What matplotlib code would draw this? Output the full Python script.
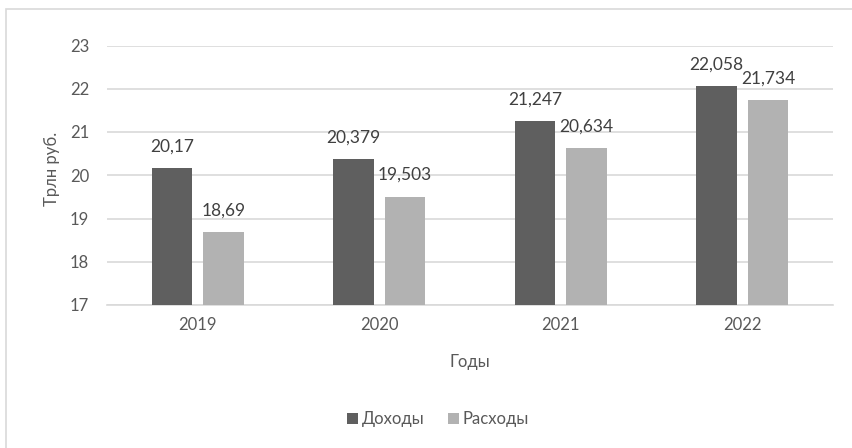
import matplotlib.pyplot as plt
from matplotlib.patches import Rectangle
import numpy as np

plt.rcParams['font.family'] = ['Lato', 'DejaVu Sans']

years = ['2019', '2020', '2021', '2022']
income = [20.17, 20.379, 21.247, 22.058]
expenses = [18.69, 19.503, 20.634, 21.734]
income_labels = ['20,17', '20,379', '21,247', '22,058']
expense_labels = ['18,69', '19,503', '20,634', '21,734']

text_color = '#595959'
dark = '#5f5f5f'
light = '#b2b2b2'
grid_color = '#d9d9d9'

fig = plt.figure(figsize=(8.53, 4.48), dpi=100)
fig.patches.append(Rectangle((6 / 853, -0.1), 1.2, 1 - 9 / 448 + 0.1,
                             transform=fig.transFigure, fill=False,
                             edgecolor='#d9d9d9', linewidth=1.2))

ax = fig.add_axes([107 / 853, 1 - 305 / 448, (833 - 107) / 853, (305 - 45.5) / 448])

x = np.arange(len(years))
w = 0.223
off = 0.142
ax.bar(x - off, [v - 17 for v in income], w, bottom=17, color=dark, label='Доходы', zorder=3)
ax.bar(x + off, [v - 17 for v in expenses], w, bottom=17, color=light, label='Расходы', zorder=3)

for xi, v, s in zip(x - off, income, income_labels):
    ax.annotate(s, (xi, v), xytext=(0, 12), textcoords='offset points',
                ha='center', va='baseline', fontsize=12.5, color='#404040')
for xi, v, s in zip(x + off, expenses, expense_labels):
    ax.annotate(s, (xi, v), xytext=(0, 12), textcoords='offset points',
                ha='center', va='baseline', fontsize=12.5, color='#404040')

ax.set_xlim(-0.5, 3.5)
ax.set_ylim(17, 23)
ax.set_yticks(range(17, 24))
ax.set_xticks(x)
ax.set_xticklabels(years)
ax.yaxis.grid(True, color=grid_color, linewidth=1.2, zorder=0)
ax.set_axisbelow(True)
for s in ['top', 'right', 'left']:
    ax.spines[s].set_visible(False)
ax.spines['bottom'].set_color(grid_color)
ax.spines['bottom'].set_linewidth(1.2)
ax.tick_params(axis='both', length=0, labelsize=12, labelcolor=text_color)
ax.tick_params(axis='y', pad=13)
ax.tick_params(axis='x', pad=9)

fig.text(52 / 853, 1 - 169 / 448, 'Трлн руб.', rotation=90, ha='center', va='center',
         fontsize=12, color=text_color)
fig.text(470 / 853, 1 - 362 / 448, 'Годы', ha='center', va='center',
         fontsize=12, color=text_color)

fig.legend(loc='center', bbox_to_anchor=(438 / 853, 1 - 419 / 448), ncol=2, frameon=False,
           fontsize=12, labelcolor=text_color, handlelength=0.65, handleheight=0.65,
           handletextpad=0.25, columnspacing=1.4)

fig.savefig('out.png', dpi=100, facecolor='white')
